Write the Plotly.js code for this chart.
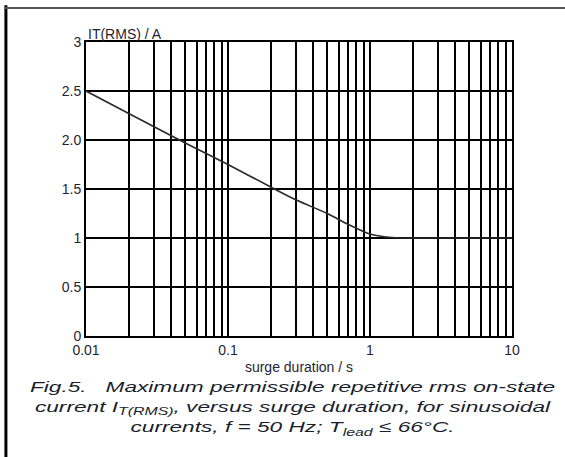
<!DOCTYPE html>
<html>
<head>
<meta charset="utf-8">
<script src="https://cdn.plot.ly/plotly-3.0.1.min.js"></script>
<style>html,body{margin:0;padding:0;background:#fff;}#chart{width:565px;height:457px;}</style>
</head>
<body>
<div id="chart"></div>
<script>
// data
var surgeDuration = [0.01, 0.02, 0.05, 0.1, 0.2, 0.3, 0.5, 0.7, 1, 1.3, 1.6, 2, 5, 10];
var currentRms    = [2.5, 2.27, 1.97, 1.75, 1.52, 1.39, 1.25, 1.14, 1.04, 1.01, 1.0, 1.0, 1.0, 1.0];

var xTickVals = [0.01, 0.1, 1, 10];
var xTickText = ['0.01', '0.1', '1', '10'];
var xMinorVals = [0.02,0.03,0.04,0.05,0.06,0.07,0.08,0.09,
                  0.2,0.3,0.4,0.5,0.6,0.7,0.8,0.9,
                  2,3,4,5,6,7,8,9];
var yTickVals = [0, 0.5, 1, 1.5, 2, 2.5, 3];
var yTickText = ['0', '0.5', '1', '1.5', '2.0', '2.5', '3'];
var captionLines = [
  'Fig.5.   Maximum permissible repetitive rms on-state',
  'current I<sub>T(RMS)</sub>, versus surge duration, for sinusoidal',
  'currents, f = 50 Hz; T<sub>lead</sub> ≤ 66°C.'
];

var trace = {
  x: surgeDuration, y: currentRms, type: 'scatter', mode: 'lines',
  line: {color: '#2a2a2a', width: 1.6, shape: 'spline', smoothing: 0.8},
  hoverinfo: 'skip'
};

var fam = 'Liberation Sans, Arial, sans-serif';
var font = {family: fam, size: 14, color: '#1f2433'};
var capFont = {family: fam, size: 15.5, color: '#1a1f2e', style: 'italic'};

var annotations = [
  {text: 'IT(RMS) / A', xref: 'paper', yref: 'paper', x: 0.0, y: 1.0,
   xanchor: 'left', yanchor: 'bottom', showarrow: false, font: font, yshift: -2},
  {text: captionLines.join('<br>'), xref: 'paper', yref: 'paper', x: 0.486, y: -0.137,
   xanchor: 'center', yanchor: 'top', align: 'center', showarrow: false, font: capFont}
];

var layout = {
  width: 565, height: 457,
  margin: {l: 86, r: 53, t: 42, b: 121},
  paper_bgcolor: '#fff', plot_bgcolor: '#fff',
  showlegend: false,
  font: font,
  xaxis: {
    type: 'log', range: [-2, 1],
    tickvals: xTickVals, ticktext: xTickText,
    showgrid: true, gridcolor: '#000', gridwidth: 2,
    minor: {tickvals: xMinorVals, showgrid: true, gridcolor: '#000', gridwidth: 2, ticks: ''},
    zeroline: false, showline: true, linecolor: '#000', linewidth: 2, mirror: true,
    ticks: '', ticklen: 0, tickfont: font,
    title: {text: 'surge duration / s', font: font, standoff: 5}
  },
  yaxis: {
    range: [0, 3],
    tickvals: yTickVals, ticktext: yTickText,
    showgrid: true, gridcolor: '#000', gridwidth: 2,
    zeroline: false, showline: true, linecolor: '#000', linewidth: 2, mirror: true,
    ticks: '', ticklen: 0, tickfont: font
  },
  annotations: annotations,
  shapes: [
    {type: 'line', xref: 'paper', yref: 'paper', x0: -0.188, x1: -0.188, y0: 1.125, y1: -0.45,
     line: {color: '#000', width: 3}},
    {type: 'line', xref: 'paper', yref: 'paper', x0: -0.19, x1: 1.2, y0: 1.116, y1: 1.116,
     line: {color: '#555', width: 2}}
  ]
};

Plotly.newPlot('chart', [trace], layout, {staticPlot: true, displayModeBar: false}).then(function(gd){
  // the printed caption is set in a horizontally widened face: stretch it to its printed width
  var anns = gd.querySelectorAll('.annotation');
  var cap = anns[anns.length - 1];
  var txt = cap && cap.querySelector('text.annotation-text');
  if (txt) {
    var bb = txt.getBBox();
    var cx = bb.x + bb.width / 2;
    var s = 526 / bb.width;
    txt.setAttribute('transform', 'translate(' + cx + ',0) scale(' + s + ',1) translate(' + (-cx) + ',0)');
  }
});
</script>
</body>
</html>
